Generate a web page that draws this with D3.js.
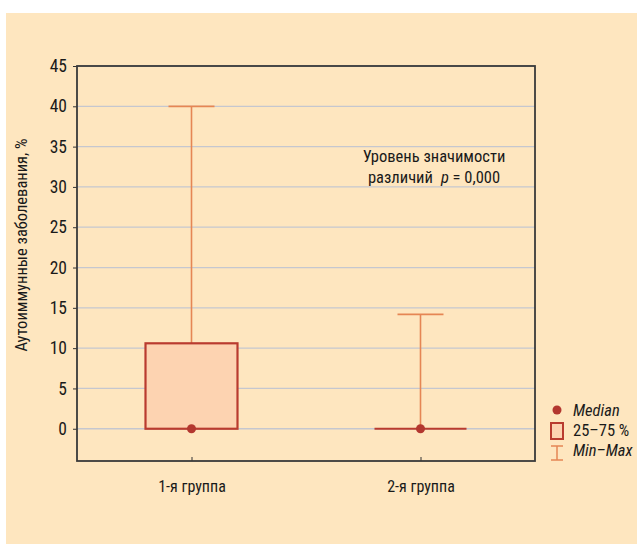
<!DOCTYPE html>
<html><head><meta charset="utf-8">
<script src="https://cdn.jsdelivr.net/npm/d3@7"></script>
<style>
html,body{margin:0;padding:0;background:#fff;}
svg{display:block;}
text{font-family:"Liberation Sans Narrow","Arial Narrow","Roboto Condensed","Liberation Sans",sans-serif;fill:#1a1a1a;}
</style></head><body>
<svg id="chart" width="637" height="544"></svg>
<script>
const groups = ["1-я группа", "2-я группа"];
const mins = [0, 0];
const q1 = [0, 0];
const medians = [0, 0];
const q3 = [10.6, 0];
const maxs = [40, 14.2];
const yTicks = [0, 5, 10, 15, 20, 25, 30, 35, 40, 45];
const yLabel = "Аутоиммунные заболевания, %";
const noteLines = ["Уровень значимости", "различий"];
const legendLabels = ["Median", "25–75 %", "Min–Max"];

const svg = d3.select("#chart");
svg.append("rect").attr("x", 6).attr("y", 13).attr("width", 631).attr("height", 531).attr("fill", "#fee6bf");

const L = 77, R = 535, T = 66, B = 461;
const x = d3.scalePoint().domain(groups).range([L, R]).padding(0.5);
const y = d3.scaleLinear().domain([-4, 45]).range([B, T]);

// grid
svg.append("g").selectAll("line").data(yTicks).join("line")
  .attr("x1", L).attr("x2", R).attr("y1", d => y(d)).attr("y2", d => y(d))
  .attr("stroke", "#c5c7cf").attr("stroke-width", 1.3);

// axes
const ya = svg.append("g").attr("transform", `translate(${L},0)`)
  .call(d3.axisLeft(y).tickValues(yTicks).tickSize(4).tickPadding(6));
const xa = svg.append("g").attr("transform", `translate(0,${B})`)
  .call(d3.axisBottom(x).tickSize(-4).tickPadding(20));
[ya, xa].forEach(g => {
  g.select(".domain").remove();
  g.selectAll("line").attr("stroke", "#333").attr("stroke-width", 1);
  g.selectAll("text").attr("font-size", 16).attr("fill", "#1a1a1a")
    .attr("font-family", '"Liberation Sans Narrow","Arial Narrow",sans-serif');
});
ya.selectAll("text").attr("font-size", 17.5);
// frame
svg.append("rect").attr("x", L).attr("y", T).attr("width", R - L).attr("height", B - T)
  .attr("fill", "none").attr("stroke", "#3a3a3a").attr("stroke-width", 1.8);

// boxes
const boxW = 92, capW = 46;
const g = svg.append("g");
groups.forEach((d, i) => {
  const cx = x(d);
  g.append("line").attr("x1", cx).attr("x2", cx).attr("y1", y(q3[i])).attr("y2", y(maxs[i]))
    .attr("stroke", "#e58654").attr("stroke-width", 1.6);
  g.append("line").attr("x1", cx - capW / 2).attr("x2", cx + capW / 2).attr("y1", y(maxs[i])).attr("y2", y(maxs[i]))
    .attr("stroke", "#e58654").attr("stroke-width", 1.8);
  g.append("line").attr("x1", cx).attr("x2", cx).attr("y1", y(mins[i])).attr("y2", y(q1[i]))
    .attr("stroke", "#e58654").attr("stroke-width", 1.6);
  const h = y(q1[i]) - y(q3[i]);
  if (h > 0.5) {
    g.append("rect").attr("x", cx - boxW / 2).attr("width", boxW)
      .attr("y", y(q3[i])).attr("height", h)
      .attr("fill", "#fdd3b1").attr("stroke", "#b93b2f").attr("stroke-width", 2.2);
  } else {
    g.append("line").attr("x1", cx - boxW / 2).attr("x2", cx + boxW / 2)
      .attr("y1", y(q1[i])).attr("y2", y(q1[i]))
      .attr("stroke", "#b93b2f").attr("stroke-width", 2.2);
  }
  g.append("circle").attr("cx", cx).attr("cy", y(medians[i])).attr("r", 4.5).attr("fill", "#b3372f");
});

// annotation
const note = svg.append("text").attr("x", 434).attr("y", 162).attr("text-anchor", "middle").attr("font-size", 16.5);
note.append("tspan").attr("x", 434).text(noteLines[0]);
const l2 = note.append("tspan").attr("x", 434).attr("dy", 21).text(noteLines[1]);
l2.append("tspan").attr("dx", 8).attr("font-style", "italic").text("p");
l2.append("tspan").text(" = 0,000");

// y label
svg.append("text").attr("transform", "translate(27,245) rotate(-90)")
  .attr("text-anchor", "middle").attr("font-size", 16.5).text(yLabel);

// legend
const lg = svg.append("g");
lg.append("circle").attr("cx", 557).attr("cy", 410).attr("r", 4.5).attr("fill", "#b3372f");
lg.append("rect").attr("x", 551).attr("y", 423).attr("width", 12).attr("height", 16)
  .attr("fill", "#fdd3b1").attr("stroke", "#b93b2f").attr("stroke-width", 2);
lg.append("line").attr("x1", 557).attr("x2", 557).attr("y1", 446).attr("y2", 460).attr("stroke", "#e58654").attr("stroke-width", 1.5);
lg.append("line").attr("x1", 551).attr("x2", 563).attr("y1", 446).attr("y2", 446).attr("stroke", "#e58654").attr("stroke-width", 1.5);
lg.append("line").attr("x1", 551).attr("x2", 563).attr("y1", 460).attr("y2", 460).attr("stroke", "#e58654").attr("stroke-width", 1.5);
lg.selectAll("text.lt").data(legendLabels).join("text").attr("class", "lt")
  .attr("x", 573).attr("y", (d, i) => 416 + i * 20).attr("font-size", 16.5)
  .attr("font-style", (d, i) => i === 1 ? "normal" : "italic").text(d => d);
</script>
</body></html>
